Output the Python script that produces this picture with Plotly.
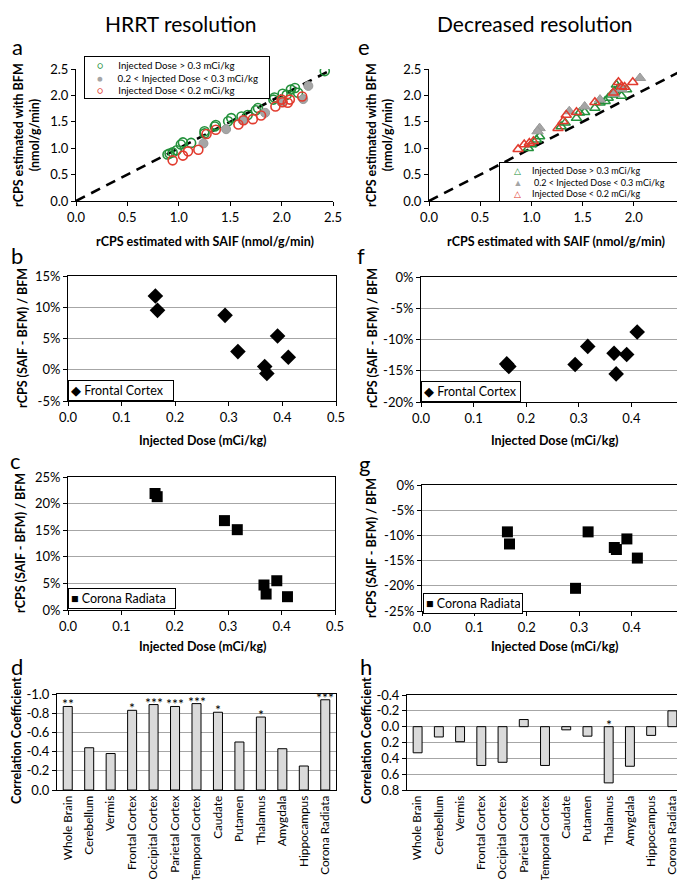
import plotly.graph_objects as go

W, H = 685, 880
FONT = "Lato, Carlito, Calibri, 'Open Sans', sans-serif"

# ---------------- data ----------------
# Panel a (HRRT resolution): rCPS SAIF (x) vs BFM (y)
a_hi_x = [2.42, 2.13, 2.09, 2.05, 2.01, 1.93, 1.92, 1.77, 1.75, 1.67, 1.61, 1.51, 1.48, 1.36, 1.35, 1.25, 1.25, 1.12, 1.04, 1.02, 0.98, 0.94, 0.91, 0.89, 2.16]
a_hi_y = [2.46, 2.14, 2.11, 2.01, 2.03, 1.96, 1.92, 1.76, 1.72, 1.63, 1.60, 1.57, 1.51, 1.44, 1.41, 1.32, 1.28, 1.10, 1.11, 1.07, 0.96, 0.92, 0.90, 0.88, 2.05]
a_mid_x = [2.26, 2.21, 1.84, 1.46, 1.24, 2.00, 1.62]
a_mid_y = [2.18, 1.93, 1.67, 1.36, 1.09, 1.87, 1.53]
a_lo_x = [0.94, 1.04, 1.09, 1.19, 1.27, 1.36, 1.58, 1.63, 1.72, 1.80, 1.94, 2.01, 2.06, 2.08, 2.20, 2.00]
a_lo_y = [0.77, 0.86, 0.94, 0.97, 1.27, 1.35, 1.45, 1.53, 1.55, 1.62, 1.79, 1.87, 1.86, 1.92, 1.98, 1.92]

# Panel e (decreased resolution)
e_hi_x = [0.97, 1.00, 1.05, 1.08, 1.29, 1.33, 1.44, 1.52, 1.62, 1.72, 1.75, 1.78, 1.81, 1.85, 1.88, 1.93, 1.47, 1.67, 1.83]
e_hi_y = [1.00, 1.07, 1.16, 1.22, 1.41, 1.48, 1.57, 1.68, 1.76, 1.89, 1.95, 2.01, 2.08, 2.14, 1.99, 2.11, 1.67, 1.86, 2.20]
e_mid_x = [1.08, 1.06, 1.37, 1.52, 1.67, 2.06, 1.88, 1.81]
e_mid_y = [1.38, 1.32, 1.70, 1.79, 1.92, 2.33, 2.12, 2.03]
e_lo_x = [0.87, 0.93, 0.98, 1.02, 1.26, 1.34, 1.31, 1.44, 1.62, 1.85, 1.88, 1.99, 1.80, 1.91]
e_lo_y = [0.98, 1.07, 1.10, 1.13, 1.38, 1.63, 1.51, 1.68, 1.87, 2.25, 2.17, 2.25, 2.05, 2.16]

identity = [0.0, 2.5]

# Injected dose per subject (mCi/kg)
dose = [0.163, 0.167, 0.293, 0.317, 0.367, 0.371, 0.391, 0.411]
# % difference (SAIF - BFM)/BFM
frontal_hrrt = [11.8, 9.5, 8.7, 2.9, 0.5, -0.6, 5.4, 2.0]
frontal_dec = [-13.9, -14.3, -14.0, -11.1, -12.2, -15.5, -12.4, -8.8]
corona_hrrt = [21.9, 21.3, 16.8, 15.1, 4.7, 3.0, 5.5, 2.5]
corona_dec = [-9.3, -11.7, -20.5, -9.3, -12.4, -12.8, -10.7, -14.5]

regions = ["Whole Brain", "Cerebellum", "Vermis", "Frontal Cortex", "Occipital Cortex",
           "Parietal Cortex", "Temporal Cortex", "Caudate", "Putamen", "Thalamus",
           "Amygdala", "Hippocampus", "Corona Radiata"]
corr_hrrt = [-0.87, -0.44, -0.38, -0.83, -0.89, -0.87, -0.90, -0.81, -0.50, -0.76, -0.43, -0.25, -0.94]
corr_dec = [0.33, 0.13, 0.19, 0.49, 0.45, -0.09, 0.49, 0.04, 0.12, 0.71, 0.50, 0.11, -0.20]
stars_hrrt = ["**", "", "", "*", "***", "***", "***", "*", "", "*", "", "", "***"]
stars_dec = ["", "", "", "", "", "", "", "", "", "*", "", "", ""]

# tick labels
t_scatter = [0.0, 0.5, 1.0, 1.5, 2.0, 2.5]
t_dose = [0.0, 0.1, 0.2, 0.3, 0.4, 0.5]
b_ticks = [-5, 0, 5, 10, 15]
f_ticks = [-20, -15, -10, -5, 0]
c_ticks = [0, 5, 10, 15, 20, 25]
g_ticks = [-25, -20, -15, -10, -5, 0]
d_ticks = [-1.0, -0.8, -0.6, -0.4, -0.2, 0.0]
h_ticks = [-0.4, -0.2, 0.0, 0.2, 0.4, 0.6, 0.8]


def pct(v):
    return f"{v}%"


def dec(v):
    return f"{v:.1f}"

# ---------------- styling ----------------
GREEN = "#23913b"
GRAY = "#a5a5a5"
RED = "#e23b2e"
BARFILL = "#dadada"
GRID = "#a6a6a6"


def px(x):
    return x / W


def py(y):
    return 1 - y / H


def base_axis(dom, rng, **kw):
    d = dict(domain=dom, range=rng, showline=True, linecolor="black", linewidth=1,
             ticks="outside", ticklen=4, tickcolor="black", tickwidth=1,
             showgrid=False, zeroline=False, automargin=False,
             tickfont=dict(size=13, color="black", family=FONT))
    d.update(kw)
    return d


fig = go.Figure()

# Panel a
fig.add_trace(go.Scatter(x=identity, y=identity, mode="lines", xaxis="x", yaxis="y",
                         line=dict(color="black", width=2.6, dash="10px,7px"), showlegend=False))
fig.add_trace(go.Scatter(x=a_hi_x, y=a_hi_y, mode="markers", xaxis="x", yaxis="y", showlegend=False,
                         marker=dict(symbol="circle-open", size=9, color=GREEN, line=dict(width=1.6))))
fig.add_trace(go.Scatter(x=a_mid_x, y=a_mid_y, mode="markers", xaxis="x", yaxis="y", showlegend=False,
                         marker=dict(symbol="circle", size=9, color=GRAY, line=dict(width=1, color="#999999"))))
fig.add_trace(go.Scatter(x=a_lo_x, y=a_lo_y, mode="markers", xaxis="x", yaxis="y", showlegend=False,
                         marker=dict(symbol="circle-open", size=9, color=RED, line=dict(width=1.6))))

# Panel e
fig.add_trace(go.Scatter(x=identity, y=identity, mode="lines", xaxis="x2", yaxis="y2",
                         line=dict(color="black", width=2.6, dash="10px,7px"), showlegend=False))
fig.add_trace(go.Scatter(x=e_hi_x, y=e_hi_y, mode="markers", xaxis="x2", yaxis="y2", showlegend=False,
                         marker=dict(symbol="triangle-up-open", size=9, color=GREEN, line=dict(width=1.5))))
fig.add_trace(go.Scatter(x=e_mid_x, y=e_mid_y, mode="markers", xaxis="x2", yaxis="y2", showlegend=False,
                         marker=dict(symbol="triangle-up", size=10, color=GRAY, line=dict(width=1, color="#999999"))))
fig.add_trace(go.Scatter(x=e_lo_x, y=e_lo_y, mode="markers", xaxis="x2", yaxis="y2", showlegend=False,
                         marker=dict(symbol="triangle-up-open", size=9, color=RED, line=dict(width=1.5))))

# Panels b, f, c, g
for xs, ys, ax, sym, sz in [(dose, frontal_hrrt, "3", "diamond", 12),
                             (dose, frontal_dec, "4", "diamond", 12),
                             (dose, corona_hrrt, "5", "square", 11),
                             (dose, corona_dec, "6", "square", 11)]:
    fig.add_trace(go.Scatter(x=xs, y=ys, mode="markers", xaxis="x" + ax, yaxis="y" + ax, showlegend=False,
                             marker=dict(symbol=sym, size=sz, color="black")))

# Panels d, h
for vals, ax in [(corr_hrrt, "7"), (corr_dec, "8")]:
    fig.add_trace(go.Bar(x=regions, y=vals, xaxis="x" + ax, yaxis="y" + ax, width=0.42, showlegend=False,
                         marker=dict(color=BARFILL, line=dict(color="black", width=1))))

layout = dict(
    width=W, height=H, template="none",
    margin=dict(l=0, r=0, t=0, b=0, autoexpand=False),
    paper_bgcolor="white", plot_bgcolor="white",
    font=dict(family=FONT, color="black", size=13),
    showlegend=False,
)

# scatter axes (a, e) - only left/bottom lines
layout["xaxis"] = base_axis([px(68), px(325)], [0, 2.5], anchor="y", tickvals=t_scatter,
                            ticktext=[dec(v) for v in t_scatter])
layout["yaxis"] = base_axis([py(193), py(61)], [0, 2.5], anchor="x", tickvals=t_scatter,
                            ticktext=[dec(v) for v in t_scatter])
layout["xaxis2"] = base_axis([px(421), px(677)], [0, 2.5], anchor="y2", tickvals=t_scatter,
                             ticktext=[dec(v) for v in t_scatter])
layout["yaxis2"] = base_axis([py(193), py(61)], [0, 2.5], anchor="x2", tickvals=t_scatter,
                             ticktext=[dec(v) for v in t_scatter])

boxed = dict(mirror=True)
grid = dict(showgrid=True, gridcolor=GRID, gridwidth=1)
cat_font = dict(size=11.8, family=FONT, color="black")

# b
layout["xaxis3"] = base_axis([px(60), px(328)], [0, 0.5], anchor="y3", tickvals=t_dose,
                             ticktext=[dec(v) for v in t_dose], **boxed)
layout["yaxis3"] = base_axis([py(393), py(268)], [-5, 15], anchor="x3", tickvals=b_ticks,
                             ticktext=[pct(v) for v in b_ticks], **boxed, **grid)
# f
layout["xaxis4"] = base_axis([px(413), px(676)], [0, 0.5], anchor="y4", tickvals=t_dose,
                             ticktext=[dec(v) for v in t_dose], **boxed)
layout["yaxis4"] = base_axis([py(394), py(269)], [-20, 0], anchor="x4", tickvals=f_ticks,
                             ticktext=[pct(v) for v in f_ticks], **boxed, **grid)
# c
layout["xaxis5"] = base_axis([px(60), px(327)], [0, 0.5], anchor="y5", tickvals=t_dose,
                             ticktext=[dec(v) for v in t_dose], **boxed)
layout["yaxis5"] = base_axis([py(602), py(469)], [0, 25], anchor="x5", tickvals=c_ticks,
                             ticktext=[pct(v) for v in c_ticks], **boxed, **grid)
# g
layout["xaxis6"] = base_axis([px(414), px(676)], [0, 0.5], anchor="y6", tickvals=t_dose,
                             ticktext=[dec(v) for v in t_dose], **boxed)
layout["yaxis6"] = base_axis([py(603), py(477)], [-25, 0], anchor="x6", tickvals=g_ticks,
                             ticktext=[pct(v) for v in g_ticks], **boxed, **grid)
# d
layout["xaxis7"] = base_axis([px(49), px(328)], [-0.5, 12.5], anchor="y7", type="category",
                             tickangle=-90, ticks="", tickfont=cat_font, **boxed)
layout["yaxis7"] = base_axis([py(782), py(686)], [0, -1.0], anchor="x7", tickvals=d_ticks,
                             ticktext=[dec(v) for v in d_ticks], **boxed, **grid)
# h
layout["xaxis8"] = base_axis([px(399), px(675)], [-0.5, 12.5], anchor="y8", type="category",
                             tickangle=-90, ticks="", tickfont=cat_font, **boxed)
layout["yaxis8"] = base_axis([py(782), py(687)], [0.8, -0.4], anchor="x8", tickvals=h_ticks,
                             ticktext=[dec(v) for v in h_ticks], **boxed, **grid)

fig.update_layout(**layout)

ann = []


def text(x, y, s, size=13, bold=False, angle=0, xanchor="center", yanchor="middle"):
    ann.append(dict(x=px(x), y=py(y), xref="paper", yref="paper", text=(f"<b>{s}</b>" if bold else s),
                    showarrow=False, textangle=angle, xanchor=xanchor, yanchor=yanchor,
                    font=dict(size=size, family=FONT, color="black")))


# column titles
text(173, 15, "HRRT resolution", size=21)
text(527, 15, "Decreased resolution", size=21)
# panel letters
for lx, ly, s in [(9, 38, "a"), (356, 38, "e"), (9, 248, "b"), (353, 248, "f"),
                  (7, 452, "c"), (356, 455, "g"), (9, 658, "d"), (358, 658, "h")]:
    text(lx, ly, s, size=22)

# axis titles
for cx in (19, 372):
    text(cx, 127, "rCPS estimated with BFM<br>(nmol/g/min)", size=12.5, bold=True, angle=-90)
text(197, 234, "rCPS estimated with SAIF (nmol/g/min)", size=12.5, bold=True)
text(548, 234, "rCPS estimated with SAIF (nmol/g/min)", size=12.5, bold=True)
for cx, cy in [(14, 330), (364, 330), (12, 535), (363, 540)]:
    text(cx, cy, "rCPS (SAIF - BFM) / BFM", size=12.5, bold=True, angle=-90)
for cx, cy in [(194, 432), (546, 432), (194, 638), (546, 638)]:
    text(cx, cy, "Injected Dose (mCi/kg)", size=12.5, bold=True)
text(8, 733, "Correlation Coefficient", size=12.5, bold=True, angle=-90)
text(358, 733, "Correlation Coefficient", size=12.5, bold=True, angle=-90)

# significance stars
for vals, stars, ax in [(corr_hrrt, stars_hrrt, "7"), (corr_dec, stars_dec, "8")]:
    for r, v, s in zip(regions, vals, stars):
        if s:
            ann.append(dict(x=r, y=min(v, 0), xref="x" + ax, yref="y" + ax, text=s, showarrow=False,
                            yanchor="bottom", yshift=-8, font=dict(size=14, family=FONT, color="black")))

# legend boxes (text)
NB = "\u00a0"


def legend_box(x0, y0, w, lines, size):
    ann.append(dict(x=px(x0), y=py(y0), xref="paper", yref="paper", xanchor="left", yanchor="top",
                    text="<br>".join(lines), align="left", showarrow=False, width=w,
                    bordercolor="black", borderwidth=1, borderpad=2, bgcolor="white",
                    font=dict(size=size, family=FONT, color="black")))


legend_box(76, 48, 180, [
    f"{NB*4}<span style='color:{GREEN}'>○</span>{NB*6}Injected Dose &gt; 0.3 mCi/kg",
    f"{NB*4}<span style='color:{GRAY}'>●</span>{NB*6}0.2 &lt; Injected Dose &lt; 0.3 mCi/kg",
    f"{NB*4}<span style='color:{RED}'>○</span>{NB*6}Injected Dose &lt; 0.2 mCi/kg"], 9.7)
legend_box(491, 154, 178, [
    f"{NB*5}<span style='color:{GREEN}'>△</span>{NB*5}Injected Dose &gt; 0.3 mCi/kg",
    f"{NB*5}<span style='color:{GRAY}'>▲</span>{NB*5}0.2 &lt; Injected Dose &lt; 0.3 mCi/kg",
    f"{NB*5}<span style='color:{RED}'>△</span>{NB*5}Injected Dose &lt; 0.2 mCi/kg"], 9)
legend_box(60, 372, 100, ["◆ Frontal Cortex"], 12.5)
legend_box(413, 373, 94, ["◆ Frontal Cortex"], 12.5)
legend_box(60, 580, 102, ["■ Corona Radiata"], 12.5)
legend_box(415, 585, 94, ["■ Corona Radiata"], 12.5)

fig.update_layout(annotations=ann)
fig.write_html("out.html")
